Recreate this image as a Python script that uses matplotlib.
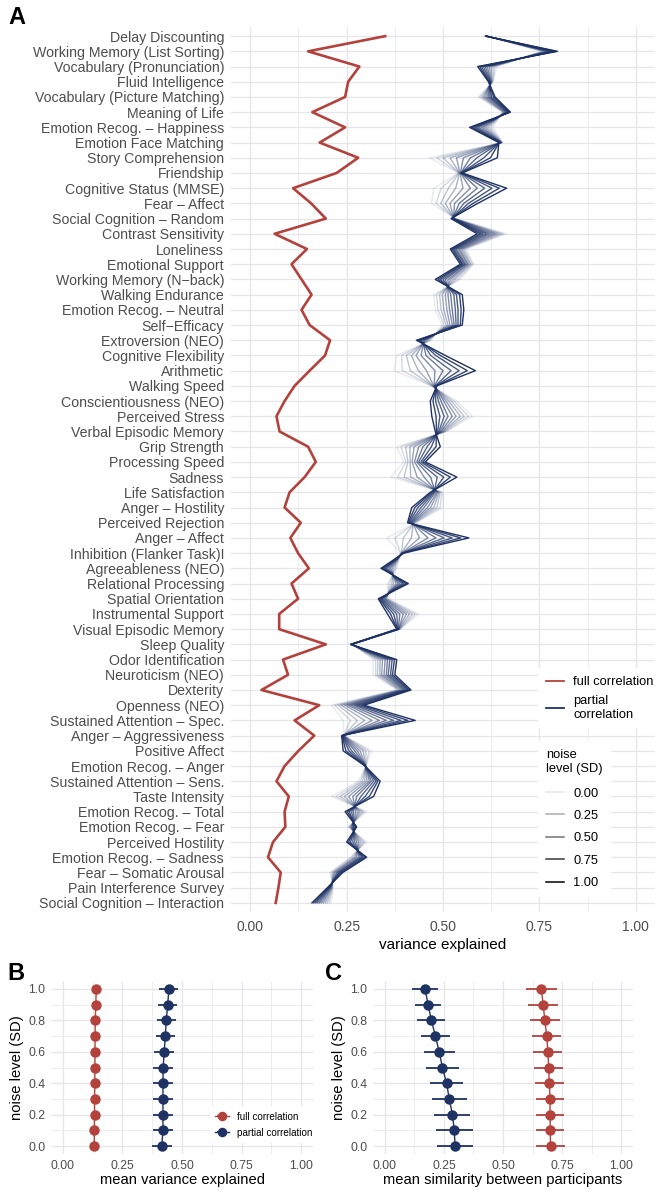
import matplotlib
matplotlib.use("Agg")
import matplotlib.pyplot as plt
from matplotlib.lines import Line2D

plt.rcParams['font.family'] = ['Liberation Sans', 'DejaVu Sans']

# ---------------- data ----------------
categories = [
    "Delay Discounting", "Working Memory (List Sorting)", "Vocabulary (Pronunciation)",
    "Fluid Intelligence", "Vocabulary (Picture Matching)", "Meaning of Life",
    "Emotion Recog. \u2013 Happiness", "Emotion Face Matching", "Story Comprehension",
    "Friendship", "Cognitive Status (MMSE)", "Fear \u2013 Affect",
    "Social Cognition \u2013 Random", "Contrast Sensitivity", "Loneliness",
    "Emotional Support", "Working Memory (N\u2212back)", "Walking Endurance",
    "Emotion Recog. \u2013 Neutral", "Self\u2212Efficacy", "Extroversion (NEO)",
    "Cognitive Flexibility", "Arithmetic", "Walking Speed",
    "Conscientiousness (NEO)", "Perceived Stress", "Verbal Episodic Memory",
    "Grip Strength", "Processing Speed", "Sadness",
    "Life Satisfaction", "Anger \u2013 Hostility", "Perceived Rejection",
    "Anger \u2013 Affect", "Inhibition (Flanker Task)I", "Agreeableness (NEO)",
    "Relational Processing", "Spatial Orientation", "Instrumental Support",
    "Visual Episodic Memory", "Sleep Quality", "Odor Identification",
    "Neuroticism (NEO)", "Dexterity", "Openness (NEO)",
    "Sustained Attention \u2013 Spec.", "Anger \u2013 Aggressiveness", "Positive Affect",
    "Emotion Recog. \u2013 Anger", "Sustained Attention \u2013 Sens.", "Taste Intensity",
    "Emotion Recog. \u2013 Total", "Emotion Recog. \u2013 Fear", "Perceived Hostility",
    "Emotion Recog. \u2013 Sadness", "Fear \u2013 Somatic Arousal", "Pain Interference Survey",
    "Social Cognition \u2013 Interaction",
]

full_corr = [0.350, 0.150, 0.283, 0.254, 0.246, 0.161, 0.246, 0.180, 0.280, 0.224,
             0.111, 0.158, 0.196, 0.063, 0.147, 0.107, 0.133, 0.159, 0.133, 0.154,
             0.207, 0.194, 0.154, 0.115, 0.089, 0.068, 0.076, 0.150, 0.170, 0.141,
             0.102, 0.089, 0.131, 0.104, 0.124, 0.152, 0.107, 0.124, 0.075, 0.075,
             0.196, 0.085, 0.098, 0.029, 0.179, 0.115, 0.166, 0.125, 0.089, 0.068,
             0.100, 0.089, 0.091, 0.059, 0.046, 0.079, 0.073, 0.066]

noise_levels = [0.0, 0.1, 0.2, 0.3, 0.4, 0.5, 0.6, 0.7, 0.8, 0.9, 1.0]

partial_00 = [0.615, 0.755, 0.640, 0.630, 0.592, 0.654, 0.630, 0.655, 0.465, 0.540, 0.476, 0.470, 0.532, 0.665, 0.560, 0.580, 0.545, 0.476, 0.480, 0.497, 0.470, 0.380, 0.373, 0.470, 0.536, 0.576, 0.510, 0.380, 0.398, 0.365, 0.500, 0.500, 0.430, 0.354, 0.390, 0.380, 0.356, 0.358, 0.437, 0.389, 0.265, 0.319, 0.319, 0.380, 0.211, 0.241, 0.243, 0.315, 0.300, 0.280, 0.211, 0.302, 0.254, 0.302, 0.259, 0.207, 0.215, 0.210]
partial_01 = [0.615, 0.759, 0.635, 0.629, 0.596, 0.656, 0.624, 0.654, 0.483, 0.541, 0.495, 0.482, 0.531, 0.657, 0.556, 0.577, 0.539, 0.483, 0.487, 0.502, 0.466, 0.393, 0.394, 0.471, 0.529, 0.566, 0.507, 0.391, 0.404, 0.382, 0.497, 0.492, 0.428, 0.375, 0.391, 0.376, 0.361, 0.355, 0.429, 0.388, 0.265, 0.325, 0.325, 0.384, 0.219, 0.260, 0.242, 0.308, 0.300, 0.286, 0.222, 0.296, 0.256, 0.297, 0.263, 0.210, 0.214, 0.205]
partial_02 = [0.614, 0.763, 0.630, 0.628, 0.601, 0.658, 0.618, 0.653, 0.500, 0.542, 0.514, 0.494, 0.530, 0.650, 0.552, 0.573, 0.532, 0.491, 0.495, 0.508, 0.462, 0.405, 0.415, 0.473, 0.522, 0.555, 0.504, 0.403, 0.409, 0.399, 0.493, 0.484, 0.426, 0.397, 0.392, 0.372, 0.367, 0.353, 0.421, 0.387, 0.264, 0.331, 0.330, 0.387, 0.228, 0.278, 0.242, 0.300, 0.300, 0.291, 0.233, 0.291, 0.258, 0.292, 0.268, 0.214, 0.212, 0.200]
partial_03 = [0.614, 0.768, 0.625, 0.626, 0.605, 0.660, 0.612, 0.652, 0.518, 0.543, 0.533, 0.506, 0.529, 0.642, 0.548, 0.570, 0.526, 0.498, 0.502, 0.513, 0.458, 0.418, 0.436, 0.474, 0.515, 0.545, 0.501, 0.414, 0.415, 0.416, 0.490, 0.476, 0.423, 0.418, 0.392, 0.368, 0.372, 0.350, 0.413, 0.386, 0.264, 0.337, 0.336, 0.391, 0.236, 0.297, 0.241, 0.293, 0.299, 0.297, 0.244, 0.285, 0.261, 0.286, 0.272, 0.217, 0.211, 0.195]
partial_04 = [0.613, 0.772, 0.620, 0.625, 0.609, 0.662, 0.606, 0.651, 0.535, 0.544, 0.552, 0.518, 0.528, 0.635, 0.544, 0.566, 0.519, 0.506, 0.510, 0.518, 0.454, 0.430, 0.457, 0.476, 0.508, 0.534, 0.498, 0.425, 0.420, 0.433, 0.487, 0.468, 0.421, 0.439, 0.393, 0.364, 0.378, 0.348, 0.405, 0.385, 0.263, 0.343, 0.341, 0.395, 0.245, 0.316, 0.241, 0.285, 0.299, 0.303, 0.255, 0.280, 0.263, 0.281, 0.276, 0.220, 0.209, 0.190]
partial_05 = [0.613, 0.776, 0.615, 0.624, 0.614, 0.665, 0.600, 0.650, 0.553, 0.545, 0.571, 0.530, 0.527, 0.627, 0.540, 0.563, 0.513, 0.513, 0.517, 0.524, 0.451, 0.443, 0.479, 0.477, 0.502, 0.524, 0.495, 0.437, 0.426, 0.451, 0.484, 0.460, 0.419, 0.461, 0.394, 0.360, 0.383, 0.345, 0.397, 0.385, 0.263, 0.350, 0.347, 0.399, 0.253, 0.335, 0.240, 0.278, 0.299, 0.309, 0.266, 0.274, 0.265, 0.276, 0.281, 0.224, 0.208, 0.185]
partial_06 = [0.612, 0.780, 0.610, 0.623, 0.618, 0.667, 0.593, 0.649, 0.571, 0.546, 0.589, 0.542, 0.525, 0.619, 0.535, 0.559, 0.506, 0.520, 0.524, 0.529, 0.447, 0.456, 0.500, 0.478, 0.495, 0.513, 0.492, 0.448, 0.432, 0.468, 0.480, 0.451, 0.417, 0.482, 0.395, 0.355, 0.388, 0.342, 0.388, 0.384, 0.262, 0.356, 0.353, 0.402, 0.261, 0.353, 0.239, 0.271, 0.299, 0.314, 0.276, 0.268, 0.267, 0.271, 0.285, 0.227, 0.206, 0.180]
partial_07 = [0.612, 0.784, 0.605, 0.622, 0.622, 0.669, 0.587, 0.648, 0.588, 0.547, 0.608, 0.554, 0.524, 0.612, 0.531, 0.556, 0.500, 0.528, 0.532, 0.534, 0.443, 0.468, 0.521, 0.480, 0.488, 0.503, 0.489, 0.459, 0.437, 0.485, 0.477, 0.443, 0.415, 0.503, 0.396, 0.351, 0.394, 0.340, 0.380, 0.383, 0.262, 0.362, 0.358, 0.406, 0.270, 0.372, 0.239, 0.263, 0.299, 0.320, 0.287, 0.263, 0.269, 0.266, 0.289, 0.230, 0.205, 0.175]
partial_08 = [0.611, 0.789, 0.600, 0.620, 0.626, 0.671, 0.581, 0.647, 0.606, 0.548, 0.627, 0.566, 0.523, 0.604, 0.527, 0.552, 0.493, 0.535, 0.539, 0.539, 0.439, 0.481, 0.542, 0.481, 0.481, 0.492, 0.486, 0.470, 0.443, 0.502, 0.474, 0.435, 0.412, 0.524, 0.396, 0.347, 0.399, 0.337, 0.372, 0.382, 0.261, 0.368, 0.364, 0.410, 0.278, 0.391, 0.238, 0.256, 0.298, 0.326, 0.298, 0.257, 0.272, 0.260, 0.293, 0.233, 0.203, 0.170]
partial_09 = [0.611, 0.793, 0.595, 0.619, 0.631, 0.673, 0.575, 0.646, 0.623, 0.549, 0.646, 0.578, 0.522, 0.597, 0.523, 0.549, 0.487, 0.543, 0.547, 0.545, 0.435, 0.493, 0.563, 0.483, 0.474, 0.482, 0.483, 0.482, 0.448, 0.519, 0.470, 0.427, 0.410, 0.546, 0.397, 0.343, 0.405, 0.335, 0.364, 0.381, 0.261, 0.374, 0.369, 0.413, 0.287, 0.409, 0.238, 0.248, 0.298, 0.331, 0.309, 0.252, 0.274, 0.255, 0.298, 0.237, 0.202, 0.165]
partial_10 = [0.610, 0.797, 0.590, 0.618, 0.635, 0.675, 0.569, 0.645, 0.641, 0.550, 0.665, 0.590, 0.521, 0.589, 0.519, 0.545, 0.480, 0.550, 0.554, 0.550, 0.431, 0.506, 0.584, 0.484, 0.467, 0.471, 0.480, 0.493, 0.454, 0.536, 0.467, 0.419, 0.408, 0.567, 0.398, 0.339, 0.410, 0.332, 0.356, 0.380, 0.260, 0.380, 0.375, 0.417, 0.295, 0.428, 0.237, 0.241, 0.298, 0.337, 0.320, 0.246, 0.276, 0.250, 0.302, 0.240, 0.200, 0.160]

# panel B: mean variance explained
full_var_mean = [0.132, 0.132, 0.133, 0.133, 0.134, 0.134, 0.135, 0.135, 0.136, 0.138, 0.140]
full_var_sd = [0.008, 0.008, 0.008, 0.008, 0.008, 0.008, 0.008, 0.008, 0.008, 0.008, 0.008]
partial_var_mean = [0.415, 0.420, 0.420, 0.420, 0.420, 0.421, 0.425, 0.430, 0.434, 0.440, 0.445]
partial_var_sd = [0.042, 0.041, 0.041, 0.041, 0.041, 0.041, 0.041, 0.041, 0.041, 0.040, 0.040]

# panel C: mean similarity between participants
full_sim_mean = [0.701, 0.700, 0.699, 0.699, 0.696, 0.693, 0.690, 0.685, 0.677, 0.670, 0.662]
full_sim_sd = [0.060, 0.060, 0.060, 0.060, 0.060, 0.060, 0.061, 0.062, 0.063, 0.064, 0.065]
partial_sim_mean = [0.297, 0.294, 0.286, 0.273, 0.261, 0.244, 0.230, 0.214, 0.197, 0.183, 0.170]
partial_sim_sd = [0.077, 0.077, 0.076, 0.074, 0.071, 0.069, 0.066, 0.062, 0.059, 0.055, 0.053]

# ---------------- styling ----------------
RED = "#B3423D"
NAVY = "#1E3264"
GRID = "#E6E6EA"
TICK = "#4D4D4D"
W, H = 666, 1200

fig = plt.figure(figsize=(W / 100, H / 100), dpi=100)


def add_px_axes(l, t, r, b):
    return fig.add_axes([l / W, 1 - b / H, (r - l) / W, (b - t) / H])


def style_axes(ax):
    for s in ax.spines.values():
        s.set_visible(False)
    ax.tick_params(which='both', length=0)
    ax.set_axisbelow(True)


# ---------------- panel A ----------------
axA = add_px_axes(231, 27, 655, 912)
ypos = list(range(len(categories)))
axA.plot(full_corr, ypos, color=RED, lw=1.9, zorder=3)
partial_series = [partial_00, partial_01, partial_02, partial_03, partial_04, partial_05,
                  partial_06, partial_07, partial_08, partial_09, partial_10]
for nl, vals in zip(noise_levels, partial_series):
    axA.plot(vals, ypos, color=NAVY, alpha=0.1 + 0.9 * nl, lw=1.0, zorder=3)

axA.set_xlim(-0.05, 1.05)
axA.set_ylim(len(categories) - 1 + 0.6, -0.6)
axA.set_yticks(ypos)
axA.set_yticklabels(categories, fontsize=10.2, color=TICK)
axA.set_xticks([0, 0.25, 0.5, 0.75, 1.0])
axA.set_xticklabels(["0.00", "0.25", "0.50", "0.75", "1.00"], fontsize=10, color=TICK)
axA.set_xticks([0.125, 0.375, 0.625, 0.875], minor=True)
style_axes(axA)
axA.tick_params(axis='y', pad=5)
axA.tick_params(axis='x', pad=6)
axA.grid(which='major', color=GRID, lw=0.9)
axA.grid(which='minor', axis='x', color=GRID, lw=0.5)
axA.set_xlabel("variance explained", fontsize=11, labelpad=3)

leg1 = axA.legend(handles=[Line2D([], [], color=RED, lw=1.3), Line2D([], [], color=NAVY, lw=1.3)],
                  labels=["full correlation", "partial\ncorrelation"],
                  loc='upper left', bbox_to_anchor=(532 / W, 1 - 662 / H), bbox_transform=fig.transFigure,
                  frameon=True, facecolor='white', edgecolor='none', framealpha=1, fontsize=9.3,
                  handlelength=1.4, handletextpad=0.7, borderpad=0.6, labelspacing=0.5)
leg1.get_frame().set_boxstyle('square', pad=0)
axA.add_artist(leg1)

leg2 = axA.legend(handles=[Line2D([], [], color='black', lw=1.1, alpha=0.1 + 0.9 * v)
                           for v in [0.0, 0.25, 0.5, 0.75, 1.0]],
                  labels=["0.00", "0.25", "0.50", "0.75", "1.00"],
                  title="noise\nlevel (SD)", title_fontsize=9.3, alignment='left',
                  loc='upper left', bbox_to_anchor=(532 / W, 1 - 735 / H), bbox_transform=fig.transFigure,
                  frameon=True, facecolor='white', edgecolor='none', framealpha=1, fontsize=9.3,
                  handlelength=1.4, handletextpad=0.7, borderpad=0.6, labelspacing=0.8)
leg2.get_frame().set_boxstyle('square', pad=0)
leg2._legend_box.sep = 9

# ---------------- panels B and C ----------------


def dot_panel(ax, first, second, xlabel):
    for mean, sd, col, lab in (first, second):
        ax.errorbar(mean, noise_levels, xerr=sd, fmt='-o', color=col, ms=6.5, lw=1.0,
                    elinewidth=1.3, capsize=0, label=lab, zorder=3)
    ax.set_xlim(-0.05, 1.05)
    ax.set_ylim(-0.05, 1.05)
    ax.set_xticks([0, 0.25, 0.5, 0.75, 1.0])
    ax.set_xticklabels(["0.00", "0.25", "0.50", "0.75", "1.00"], fontsize=8.7, color=TICK)
    ax.set_xticks([0.125, 0.375, 0.625, 0.875], minor=True)
    ax.set_yticks([0, 0.2, 0.4, 0.6, 0.8, 1.0])
    ax.set_yticklabels(["0.0", "0.2", "0.4", "0.6", "0.8", "1.0"], fontsize=8.7, color=TICK)
    ax.set_yticks([0.1, 0.3, 0.5, 0.7, 0.9], minor=True)
    style_axes(ax)
    ax.tick_params(axis='y', pad=4)
    ax.tick_params(axis='x', pad=4)
    ax.grid(which='major', color=GRID, lw=0.9)
    ax.grid(which='minor', color=GRID, lw=0.5)
    ax.set_xlabel(xlabel, fontsize=10.6, labelpad=1)
    ax.set_ylabel("noise level (SD)", fontsize=10.6, labelpad=3)


axB = add_px_axes(51, 981, 313, 1154)
dot_panel(axB, (full_var_mean, full_var_sd, RED, "full correlation"),
          (partial_var_mean, partial_var_sd, NAVY, "partial correlation"),
          "mean variance explained")
axB.legend(loc='upper left', bbox_to_anchor=(205 / W, 1 - 1102 / H), bbox_transform=fig.transFigure,
           frameon=True, facecolor='white', edgecolor='none', framealpha=1, fontsize=7.1,
           handlelength=1.4, handletextpad=0.8, borderpad=0.5, labelspacing=0.6, markerscale=0.9)

axC = add_px_axes(373, 981, 633, 1154)
dot_panel(axC, (partial_sim_mean, partial_sim_sd, NAVY, "partial correlation"),
          (full_sim_mean, full_sim_sd, RED, "full correlation"),
          "mean similarity between participants")

# panel letters
fig.text(8 / W, 1 - 18 / H, "A", fontsize=17, fontweight='bold', va='center', ha='left')
fig.text(7 / W, 1 - 973 / H, "B", fontsize=17, fontweight='bold', va='center', ha='left')
fig.text(325 / W, 1 - 973 / H, "C", fontsize=17, fontweight='bold', va='center', ha='left')

fig.savefig("out.png", dpi=100)
